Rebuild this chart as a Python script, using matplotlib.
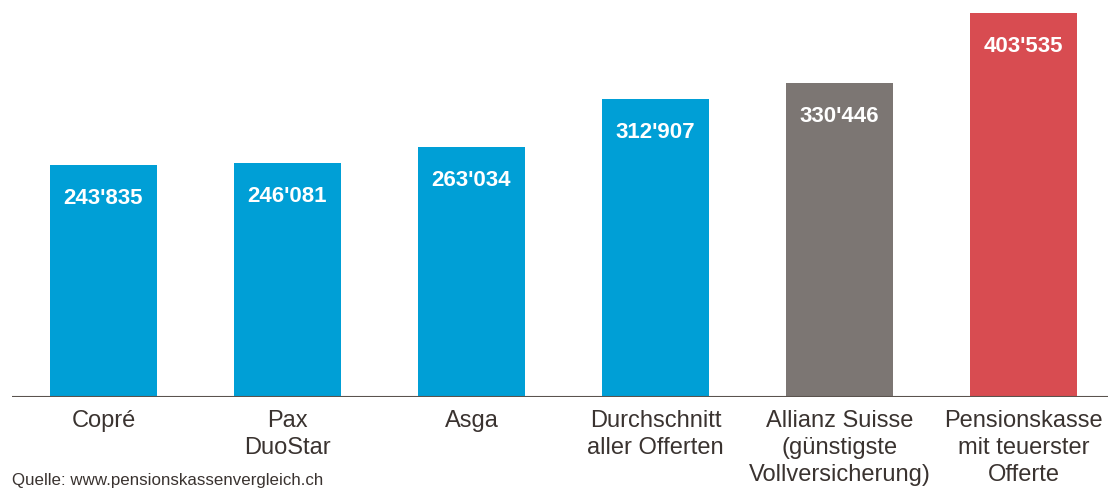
import matplotlib.pyplot as plt

plt.rcParams['font.family'] = ['Liberation Sans', 'DejaVu Sans']

categories = ["Copré", "Pax\nDuoStar", "Asga", "Durchschnitt\naller Offerten",
              "Allianz Suisse\n(günstigste\nVollversicherung)", "Pensionskasse\nmit teuerster\nOfferte"]
values = [243835, 246081, 263034, 312907, 330446, 403535]
value_labels = ["243'835", "246'081", "263'034", "312'907", "330'446", "403'535"]
colors = ["#009fd6", "#009fd6", "#009fd6", "#009fd6", "#7c7673", "#d84c51"]

fig = plt.figure(figsize=(11.08, 4.88), dpi=100)
ax = fig.add_axes([12/1108, 91/488, 1096/1108, 397/488])

x = range(len(values))
ax.bar(x, values, width=0.58, color=colors, zorder=2)

# value labels sit inside the bar, near the top
for i, v in enumerate(values):
    ax.text(i, v - 41000, value_labels[i], ha="center", va="baseline",
            color="white", fontsize=16, fontweight="bold")

for i, c in enumerate(categories):
    ax.text(i, -13500, c, ha="center", va="top", fontsize=17,
            color="#3a3330", linespacing=1.3)

ax.set_xlim(-0.497, 5.459)
ax.set_ylim(0, 417196)
ax.axhline(0, color="#5a534e", lw=1.5, zorder=3)
ax.set_xticks([])
ax.set_yticks([])
for s in ax.spines.values():
    s.set_visible(False)

fig.text(12/1108, 1 - 480/488, "Quelle: www.pensionskassenvergleich.ch",
         fontsize=12.2, color="#3a3330", va="center", ha="left")

fig.savefig("out.png", dpi=100)
